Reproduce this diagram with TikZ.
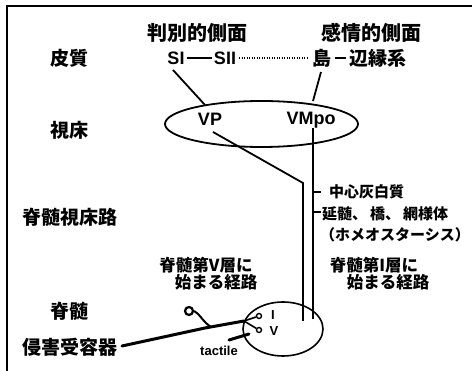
\documentclass[tikz,border=0pt]{standalone}
\usepackage{fontspec}
\setmainfont{Noto Sans CJK JP}
\newfontfamily\lat{Liberation Sans}
\usetikzlibrary{shapes.geometric}
\begin{document}
\begin{tikzpicture}[x=1pt,y=-1pt,
  lbl/.style={font=\bfseries\fontsize{19}{19}\selectfont, inner sep=0pt},
  head/.style={font=\bfseries\fontsize{20}{20}\selectfont, inner sep=0pt},
  small/.style={font=\bfseries\fontsize{15}{15}\selectfont, inner sep=0pt, anchor=west},
  pathlbl/.style={font=\bfseries\fontsize{16.5}{16.5}\selectfont, inner sep=0pt},
  latin/.style={font=\lat\bfseries\fontsize{18}{18}\selectfont, inner sep=0pt},
  latsmall/.style={font=\lat\bfseries\fontsize{13}{13}\selectfont, inner sep=0pt},
  conn/.style={line width=1.8pt},
  fiber/.style={line width=3pt, line cap=round},
  term/.style={circle, draw, inner sep=0pt, line width=1.4pt, minimum size=5pt},
]
\useasboundingbox (0,0) rectangle (472,371);
\draw[line width=1.8pt] (7,371) -- (7,6) -- (472,6);

% headings
\node[head] (h1) at (197,33) {判別的側面};
\node[head] (h2) at (371,33) {感情的側面};

% row labels
\node[lbl] (cortex) at (69,58) {皮質};
\node[lbl] (thal) at (69,130) {視床};
\node[lbl] (stt) at (70,217) {脊髄視床路};
\node[lbl] (sc) at (69,311) {脊髄};
\node[lbl] (noci) at (70,347) {侵害受容器};

% cortex row
\node[latin] (SI) at (176,58) {SI};
\node[latin] (SII) at (225,58) {SII};
\node[lbl] (shima) at (322,58) {島};
\node[lbl] (limb) at (378,58) {辺縁系};
\draw[line width=2pt] ([xshift=2]SI.east) -- ([xshift=-2]SII.west);
\draw[line width=1.5pt, dash pattern=on 1.2pt off 1.3pt] ([xshift=3]SII.east) -- ([xshift=-5]shima.west);
\draw[line width=2pt] ([xshift=3]shima.east) -- ([xshift=-3]limb.west);

% thalamus
\node[draw, ellipse, line width=1.8pt, minimum width=193pt, minimum height=46pt, inner sep=0pt] (thalamus) at (261.5,124) {};
\node[latin] (VP) at (210,119) {VP};
\node[latin] (VMpo) at (311,120) {VMpo};

\coordinate (siA) at (173,70);
\coordinate (siB) at (205,105);
\draw[conn] (siA) -- (siB);
\coordinate (shA) at (321,72);
\coordinate (shB) at (313,101);
\draw[conn] (shA) -- (shB);

% spinothalamic tracts
\coordinate (vpA) at (213,132);
\coordinate (vpB) at (303,183);
\coordinate (vpC) at (303,321);
\draw[conn] (vpA) -- (vpB) -- (vpC);
\coordinate (vmA) at (313,128);
\coordinate (vmC) at (313,319);
\draw[conn] (vmA) -- (vmC);

\coordinate (t1a) at (313,192);
\coordinate (t1b) at (321,192);
\draw[conn] (t1a) -- (t1b);
\coordinate (t2a) at (313,212);
\coordinate (t2b) at (321,212);
\draw[conn] (t2a) -- (t2b);
\node[small] (pag) at (329,192) {中心灰白質};
\node[small] (med) at (322,214) {延髄、\hspace{3pt}橋、\hspace{3pt}網様体};
\node[small] (homeo) at (320,235) {（ホメオスターシス）};

% pathway labels
\node[pathlbl] (l5a) at (206,265) {脊髄第V層に};
\node[pathlbl] (l5b) at (216,282) {始まる経路};
\node[pathlbl] (l1a) at (374,265) {脊髄第I層に};
\node[pathlbl] (l1b) at (388,282) {始まる経路};

% spinal cord
\node[draw, ellipse, line width=1.6pt, minimum width=80pt, minimum height=54pt, inner sep=0pt] (cord) at (283,329) {};
\node[term] (cI) at (259,316) {};
\node[term] (cV) at (259,330) {};
\node[latsmall] (LI) at (273,315) {I};
\node[latsmall] (LV) at (274,331) {V};

% nociceptor fibre
\coordinate (n0) at (122,346);
\coordinate (n1) at (205,328);
\coordinate (split) at (244,321);
\draw[fiber] (n0) -- (n1) -- (split);
\draw[line width=1.6pt] (split) -- (cI);
\draw[line width=1.6pt] (split) -- (cV);
\node[circle, draw, line width=2.2pt, inner sep=0pt, minimum size=8pt] (rc) at (189,311) {};
\coordinate (rj) at (211,327);
\draw[line width=2pt] (rc.east) .. controls (199,313) and (203,322) .. (rj);

% tactile
\coordinate (ta) at (229,340);
\coordinate (tb) at (249,334);
\draw[fiber] (ta) -- (tb);
\node[font=\lat\bfseries\fontsize{13}{13}\selectfont, inner sep=0pt] (tac) at (219,351) {tactile};
\end{tikzpicture}
\end{document}
